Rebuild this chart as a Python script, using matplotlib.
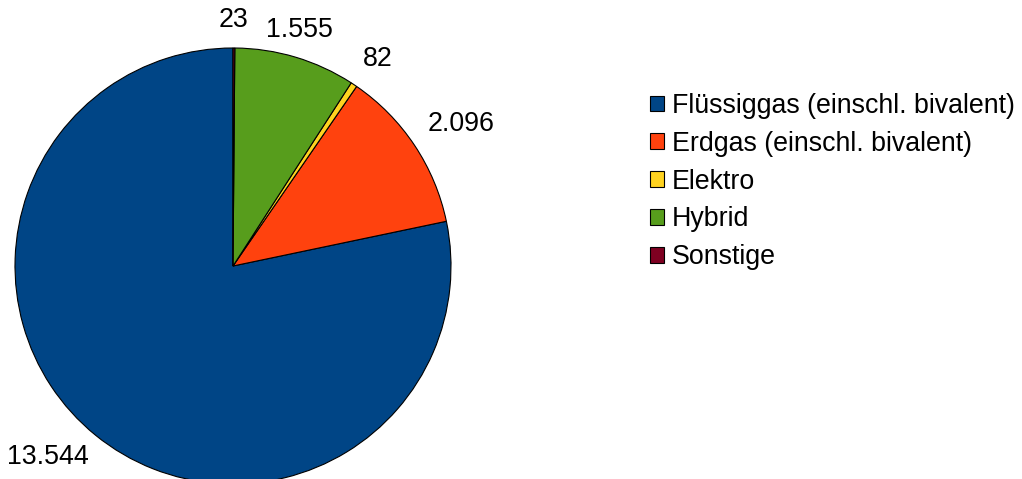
import numpy as np
import matplotlib
matplotlib.use("Agg")
import matplotlib.pyplot as plt

plt.rcParams['font.family'] = ['Liberation Sans', 'DejaVu Sans']

# data
categories = ['Flüssiggas (einschl. bivalent)', 'Erdgas (einschl. bivalent)',
              'Elektro', 'Hybrid', 'Sonstige']
values = [13544, 2096, 82, 1555, 23]
value_labels = ['13.544', '2.096', '82', '1.555', '23']
colors = ['#004586', '#ff420e', '#ffd320', '#579d1c', '#7e0021']

fig = plt.figure(figsize=(10.22, 4.79), dpi=100)
W, H = 1022, 479
cx, cy, r = 233, 266, 218
ax = fig.add_axes([(cx - r) / W, (H - cy - r) / H, 2 * r / W, 2 * r / H])

wedges, _ = ax.pie(values, colors=colors, startangle=90, counterclock=True,
                   wedgeprops=dict(edgecolor='black', linewidth=0.8))
ax.set_xlim(-1, 1)
ax.set_ylim(-1, 1)
ax.set_aspect('equal')
ax.axis('off')

# value labels outside each slice
for w, lab in zip(wedges, value_labels):
    ang = np.radians((w.theta1 + w.theta2) / 2)
    c, s = np.cos(ang), np.sin(ang)
    ha = 'left' if c > 0.3 else ('right' if c < -0.3 else 'center')
    va = 'bottom' if s > 0 else 'top'
    dist = 1.07 if s > 0 else 1.05
    ax.text(dist * c, dist * s, lab, ha=ha, va=va, fontsize=19.3,
            clip_on=False)

fig.legend(wedges, categories, loc='upper left',
           bbox_to_anchor=(650 / W, 1 - 93 / H), frameon=False,
           fontsize=19.3, handlelength=0.54, handleheight=0.54,
           handletextpad=0.28, labelspacing=0.44, borderaxespad=0,
           borderpad=0)

fig.savefig('out.png', dpi=100)
